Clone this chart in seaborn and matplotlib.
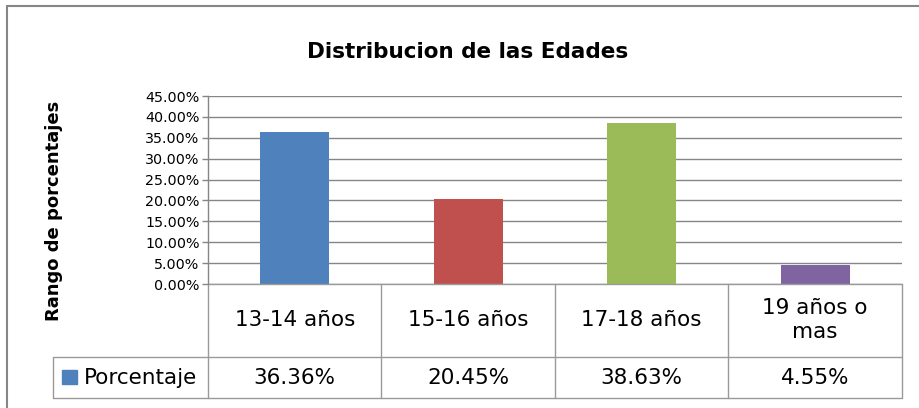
import matplotlib
matplotlib.use("Agg")
import matplotlib.pyplot as plt
import seaborn as sns
from matplotlib.lines import Line2D
from matplotlib.patches import Rectangle

categorias = ["13-14 años", "15-16 años", "17-18 años", "19 años o\nmas"]
porcentajes = [36.36, 20.45, 38.63, 4.55]
colores = ["#4F81BD", "#C0504D", "#9BBB59", "#8064A2"]
yticks = [0, 5, 10, 15, 20, 25, 30, 35, 40, 45]
serie = "Porcentaje"

sns.set_theme(style="white")
plt.rcParams["font.family"] = ["DejaVu Sans"]
plt.rcParams["text.color"] = "black"

gris = "#868686"
gris_tabla = "#9A9A9A"

fig = plt.figure(figsize=(9.2, 4.08), dpi=100)
ax = fig.add_axes([208 / 920, 1 - 284 / 408, 694 / 920, 188 / 408])

sns.barplot(x=list(range(len(categorias))), y=porcentajes, hue=list(range(len(categorias))),
            palette=colores, width=0.4, saturation=1, legend=False, linewidth=0, ax=ax)

ax.set_xlim(-0.5, len(categorias) - 0.5)
ax.set_ylim(0, 45)
ax.set_yticks(yticks)
ax.set_yticklabels([f"{v:.2f}%" for v in yticks])
ax.set_xticks([])
ax.set_xlabel("")
ax.yaxis.grid(True, color=gris, lw=1.0)
ax.set_axisbelow(True)
for s in ["top", "right", "bottom"]:
    ax.spines[s].set_visible(False)
ax.spines["left"].set_color(gris)
ax.spines["left"].set_linewidth(1.0)
ax.tick_params(axis="y", length=4, color=gris, width=1.0, labelsize=10.3, pad=2,
               labelcolor="black", left=True)

# tabla de datos debajo del eje
tr = ax.get_xaxis_transform()
fila1 = -73 / 188
fila2 = -114 / 188
izq_leyenda = -155 / 694

for i in range(len(categorias) + 1):
    ax.add_line(Line2D([i - 0.5, i - 0.5], [0, fila2], transform=tr, color=gris_tabla,
                       lw=1.0, clip_on=False))
ax.add_line(Line2D([-0.5, len(categorias) - 0.5], [0, 0], transform=tr, color=gris_tabla,
                   lw=1.0, clip_on=False))
for y in [fila1, fila2]:
    ax.add_line(Line2D([izq_leyenda, 1], [y, y], transform=ax.transAxes, color=gris_tabla,
                       lw=1.0, clip_on=False))
ax.add_line(Line2D([izq_leyenda, izq_leyenda], [fila1, fila2], transform=ax.transAxes,
                   color=gris_tabla, lw=1.0, clip_on=False))

for i, (cat, val) in enumerate(zip(categorias, porcentajes)):
    ax.text(i, fila1 / 2, cat, transform=tr, ha="center", va="center", fontsize=15.5,
            linespacing=1.25)
    ax.text(i, (fila1 + fila2) / 2, f"{val:.2f}%", transform=tr, ha="center", va="center",
            fontsize=15.5)

ax.add_patch(Rectangle((-146 / 694, -100 / 188), 15 / 694, 14 / 188, transform=ax.transAxes,
                       color=colores[0], clip_on=False))
ax.text(-124 / 694, (fila1 + fila2) / 2, serie, transform=ax.transAxes, ha="left",
        va="center", fontsize=15.5)

# titulo y etiqueta del eje
fig.text(468 / 920, 1 - 52 / 408, "Distribucion de las Edades", ha="center", va="center",
         fontsize=15.5, fontweight="bold")
fig.text(54 / 920, 1 - 211 / 408, "Rango de porcentajes", ha="center", va="center",
         rotation=90, fontsize=13, fontweight="bold")

# borde del grafico
fig.add_artist(Line2D([7 / 920, 7 / 920], [0, 1 - 6 / 408], transform=fig.transFigure,
                      color=gris, lw=1.5))
fig.add_artist(Line2D([7 / 920, 1], [1 - 6 / 408, 1 - 6 / 408], transform=fig.transFigure,
                      color=gris, lw=1.5))

fig.savefig("out.png", dpi=100)
